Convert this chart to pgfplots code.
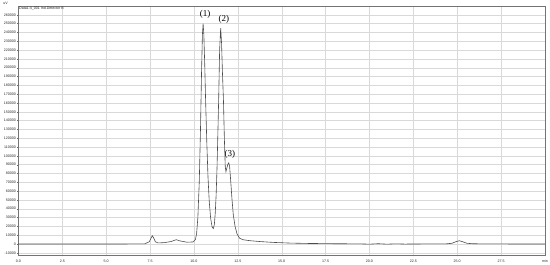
\documentclass[border=0pt]{standalone}
\usepackage{pgfplots}
\pgfplotsset{compat=1.18}
\usepackage{fontspec}
\setmainfont{Liberation Sans}
\newfontfamily\seriffont{Liberation Serif}
\begin{document}
\begin{tikzpicture}
\path[use as bounding box] (-18.5pt,-10pt) rectangle (531.5pt,255pt);
\begin{axis}[
  scale only axis,
  width=526.5pt, height=249pt,
  xmin=0, xmax=30, ymin=-12500, ymax=270000,
  xtick={0,2.5,5,7.5,10,12.5,15,17.5,20,22.5,25,27.5,30},
  xticklabels={0.0,2.5,5.0,7.5,10.0,12.5,15.0,17.5,20.0,22.5,25.0,27.5,min},
  minor x tick num=4,
  ytick={-10000,0,10000,20000,30000,40000,50000,60000,70000,80000,90000,100000,110000,120000,130000,140000,150000,160000,170000,180000,190000,200000,210000,220000,230000,240000,250000,260000},
  yticklabel style={/pgf/number format/fixed,/pgf/number format/1000 sep={}, inner sep=1pt},
  scaled y ticks=false,
  /pgf/number format/assume math mode=true,
  tick label style={font=\fontsize{3.6}{4}\selectfont, text=black!85},
  xticklabel style={yshift=-0.3pt},
  tick align=outside,
  major tick length=1.5pt, minor tick length=1pt,
  tick style={black!60, line width=0.3pt},
  xtick pos=bottom, ytick pos=left,
  grid=major,
  major grid style={black!15, line width=0.35pt},
  axis line style={black!55, line width=0.4pt},
  clip=false,
]
\addplot[black!70, line width=0.6pt] coordinates {
(0,0) (3,0) (6,0) (7.2,200) (7.45,2500) (7.55,6500) (7.62,9400) (7.7,7000)
(7.8,2500) (7.95,1200) (8.3,1500) (8.7,2800) (8.9,4300) (9.0,4800) (9.2,3500)
(9.6,2000) (9.95,2300) (10.08,5000) (10.15,12000) (10.22,30000) (10.3,70000)
(10.37,130000) (10.43,195000) (10.48,238000) (10.52,250000) (10.56,238000)
(10.61,205000) (10.66,164000) (10.73,115000) (10.8,75000) (10.87,48000)
(10.95,29000) (11.03,19500) (11.1,17500) (11.16,22000) (11.21,35000)
(11.26,55000) (11.31,85000) (11.36,125000) (11.41,168000) (11.46,220000)
(11.52,245000) (11.57,228000) (11.62,195000) (11.68,162000) (11.73,120000)
(11.78,88000) (11.82,82000) (11.87,86000) (11.93,90500) (11.98,92000)
(12.03,88000) (12.09,72000) (12.16,52000) (12.24,33000) (12.34,20000)
(12.45,11500) (12.6,6500) (12.8,4800) (13.2,3700) (13.8,2700) (14.5,1800)
(15.5,1000) (16.5,600) (18,300) (19.5,100) (20,-200) (20.5,300) (21,-200)
(21.5,200) (22,-100) (23,50) (24.4,200) (24.7,800) (24.95,2800) (25.12,3700)
(25.3,2600) (25.55,800) (25.9,250) (27,50) (30,0)
};
\node[font=\seriffont\fontsize{9}{10}\selectfont] at (axis cs:10.63,261000) {(1)};
\node[font=\seriffont\fontsize{9}{10}\selectfont] at (axis cs:11.7,254500) {(2)};
\node[font=\seriffont\fontsize{9}{10}\selectfont] at (axis cs:12.05,102000) {(3)};
\node[font=\fontsize{3.6}{4}\selectfont, anchor=north west, inner sep=0.5pt, text=black!85] at (rel axis cs:0,1) {Data1:4\_001 Ind.Detector B};
\node[font=\fontsize{3.6}{4}\selectfont, anchor=south, inner sep=0.3pt, text=black!85] at ([xshift=-13pt,yshift=0.5pt]rel axis cs:0,1) {uV};
\end{axis}
\end{tikzpicture}
\end{document}
